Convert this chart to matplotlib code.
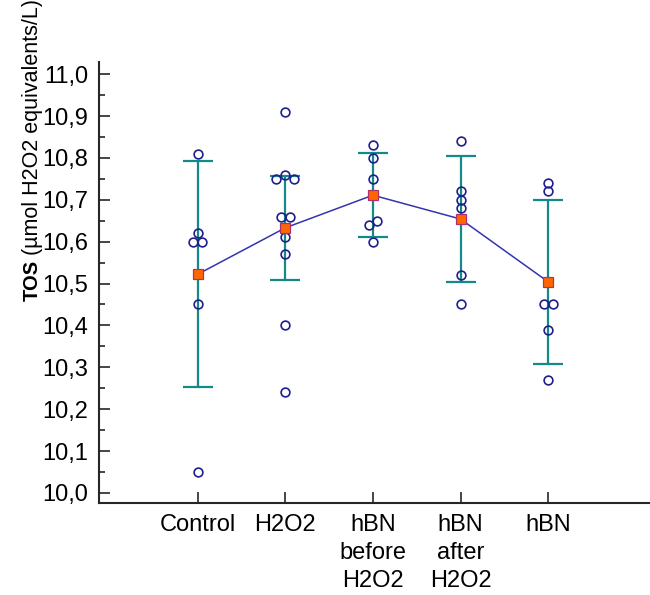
import matplotlib as mpl
mpl.use('Agg')
import matplotlib.pyplot as plt
import numpy as np
from matplotlib.ticker import MultipleLocator, FuncFormatter

plt.rcParams['font.family'] = ['Liberation Sans', 'DejaVu Sans']

# groups and individual readings (umol H2O2 equivalents/L)
groups = ['Control', 'H2O2', 'hBN\nbefore\nH2O2', 'hBN\nafter\nH2O2', 'hBN']
control = [10.81, 10.62, 10.60, 10.60, 10.45, 10.05]
h2o2 = [10.91, 10.76, 10.75, 10.75, 10.66, 10.66, 10.61, 10.57, 10.40, 10.24]
hbn_before = [10.83, 10.80, 10.75, 10.65, 10.64, 10.60]
hbn_after = [10.84, 10.72, 10.70, 10.68, 10.52, 10.45]
hbn = [10.74, 10.72, 10.45, 10.45, 10.39, 10.27]
points = [control, h2o2, hbn_before, hbn_after, hbn]

# group means and error bar half-widths as drawn
means = [10.522, 10.633, 10.711, 10.654, 10.504]
errs = [0.270, 0.124, 0.100, 0.150, 0.196]

bar_col = '#138a8a'
dot_col = '#1f1f8c'
line_col = '#3434b0'

fig = plt.figure(figsize=(6.5, 5.95), dpi=100)
ax = fig.add_axes([99/650, 92/595, 550/650, 441/595])

xpos = np.arange(1, len(groups) + 1)
ylo, yhi = 9.976, 11.029
xlo, xhi = -0.125, 6.15

# pixel scales, used to spread circles that would sit on top of each other
px_x = 550 / (xhi - xlo)
px_y = 441 / (yhi - ylo)

def swarm(vals, step=0.1, near=7.0):
    vals = np.array(vals, dtype=float)
    order = np.argsort(-vals)
    offs = np.zeros(len(vals))
    # clusters of values closer than `near` pixels
    clusters = []
    for i in order:
        if clusters and abs(vals[clusters[-1][-1]] - vals[i]) * px_y < near:
            clusters[-1].append(i)
        else:
            clusters.append([i])
    for cl in clusters:
        placed = []
        for i in cl:
            for k in [0, -1, 1, -2, 2, -3, 3]:
                ok = True
                for j in placed:
                    dx = (k * step - offs[j]) * px_x
                    dy = (vals[i] - vals[j]) * px_y
                    if np.hypot(dx, dy) < near:
                        ok = False
                        break
                if ok:
                    offs[i] = k * step
                    break
            placed.append(i)
        offs[cl] -= offs[cl].mean()
    return offs

ax.errorbar(xpos, means, yerr=errs, fmt='none', ecolor=bar_col, elinewidth=1.6,
            capsize=10.5, capthick=1.6, zorder=2)
ax.plot(xpos, means, color=line_col, lw=1.1, zorder=3)

for x, vals in zip(xpos, points):
    offs = swarm(vals)
    ax.plot(x + offs, vals, 'o', ms=6.3, mfc='none', mec=dot_col, mew=1.2,
            zorder=4, linestyle='none')

ax.plot(xpos, means, 's', ms=6.8, mfc='#ff6600', mec='#b0306a', mew=0.9,
        zorder=5, linestyle='none')

ax.set_xlim(xlo, xhi)
ax.set_ylim(ylo, yhi)

ax.spines['top'].set_visible(False)
ax.spines['right'].set_visible(False)
for s in ['left', 'bottom']:
    ax.spines[s].set_linewidth(1.5)
    ax.spines[s].set_color('#262626')

ax.yaxis.set_major_locator(MultipleLocator(0.1))
ax.yaxis.set_minor_locator(MultipleLocator(0.05))
ax.yaxis.set_major_formatter(FuncFormatter(lambda v, p: ('%.1f' % v).replace('.', ',')))
ax.tick_params(axis='y', which='major', direction='in', length=8, width=1.2,
               color='#262626', labelsize=17, pad=7.5)
ax.tick_params(axis='y', which='minor', direction='in', length=4.3, width=1.2,
               color='#262626')

ax.set_xticks(xpos)
ax.set_xticklabels(groups, linespacing=1.35)
ax.tick_params(axis='x', direction='in', length=8, width=1.2, color='#262626',
               labelsize=17, pad=8)

# y label: bold TOS followed by the unit in normal weight
fig.text(38/650, 1 - 301/595, 'TOS', rotation=90, rotation_mode='anchor',
         ha='left', va='baseline', fontsize=14.5, fontweight='bold')
fig.text(38/650, 1 - 255/595, '(\u00b5mol H2O2 equivalents/L)', rotation=90,
         rotation_mode='anchor', ha='left', va='baseline', fontsize=15.5)

plt.savefig('out.png', dpi=100)
